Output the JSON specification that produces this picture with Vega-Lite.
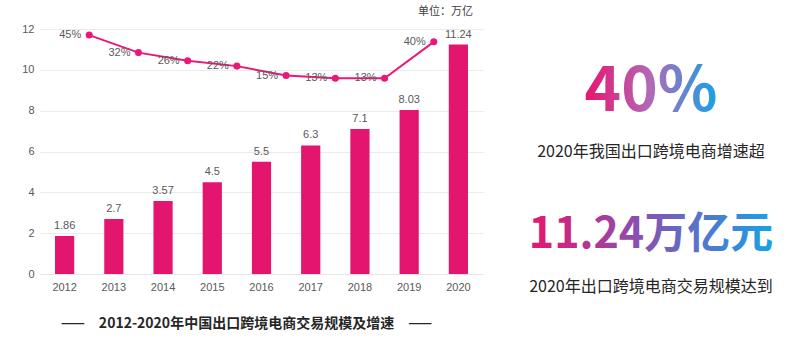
{
  "$schema": "https://vega.github.io/schema/vega-lite/v6.json",
  "autosize": "pad",
  "padding": {"left": 21, "top": 6, "right": 0, "bottom": 0},
  "bounds": "flush",
  "spacing": 40,
  "config": {"view": {"stroke": null}, "font": "Liberation Sans, Noto Sans CJK SC"},
  "hconcat": [
    {
      "width": 443,
      "height": 245,
      "title": {"text": "单位：万亿", "anchor": "end", "fontSize": 11, "fontWeight": "normal", "color": "#404040", "offset": 6, "dx": -10, "font": "Noto Sans CJK SC"},
      "layer": [
        {
          "data": {"values": [
            {"year": "2012", "value": 1.86},
            {"year": "2013", "value": 2.7},
            {"year": "2014", "value": 3.57},
            {"year": "2015", "value": 4.5},
            {"year": "2016", "value": 5.5},
            {"year": "2017", "value": 6.3},
            {"year": "2018", "value": 7.1},
            {"year": "2019", "value": 8.03},
            {"year": "2020", "value": 11.24}
          ]},
          "encoding": {
            "x": {"field": "year", "type": "nominal", "sort": null,
              "scale": {"type": "band", "paddingInner": 0.61, "paddingOuter": 0.305},
              "axis": {"title": "——\u20032012-2020年中国出口跨境电商交易规模及增速\u2003——", "titleFont": "Noto Sans CJK SC", "titleFontSize": 14, "titleFontWeight": "bold", "titleColor": "#262626", "titlePadding": 24, "titleX": 206, "titleAlign": "center", "labelAngle": 0, "labelFontSize": 11, "labelColor": "#595959", "labelPadding": 7, "ticks": false, "domainColor": "#e6e6e6"}},
            "y": {"field": "value", "type": "quantitative",
              "scale": {"domain": [0, 12], "nice": false},
              "axis": {"values": [0, 2, 4, 6, 8, 10, 12], "title": null, "domain": false, "ticks": false, "labelPadding": 6, "labelFontSize": 11, "labelColor": "#595959", "gridColor": "#ebebeb"}}
          },
          "layer": [
            {"mark": {"type": "bar", "color": "#e3156f"}},
            {"mark": {"type": "text", "baseline": "bottom", "dy": -5, "fontSize": 11, "color": "#595959"},
             "encoding": {"text": {"field": "value", "type": "nominal"}}}
          ]
        },
        {
          "data": {"values": [
            {"year": "2013", "rate": 0.45},
            {"year": "2014", "rate": 0.32},
            {"year": "2015", "rate": 0.26},
            {"year": "2016", "rate": 0.22},
            {"year": "2017", "rate": 0.15},
            {"year": "2018", "rate": 0.13},
            {"year": "2019", "rate": 0.13},
            {"year": "2020", "rate": 0.40}
          ]},
          "encoding": {
            "x": {"field": "year", "type": "ordinal",
              "scale": {"type": "point", "domain": ["2012", "2013", "2014", "2015", "2016", "2017", "2018", "2019", "2020", "2021"], "padding": 0},
              "axis": null},
            "y": {"field": "rate", "type": "quantitative",
              "scale": {"domain": [-1.32, 0.495], "zero": false, "nice": false},
              "axis": null}
          },
          "layer": [
            {"mark": {"type": "line", "color": "#e8197a", "strokeWidth": 2}},
            {"mark": {"type": "point", "filled": true, "color": "#e8197a", "size": 50, "opacity": 1}},
            {"mark": {"type": "text", "align": "right", "dx": -8, "baseline": "middle", "fontSize": 11, "color": "#595959"},
             "encoding": {"text": {"field": "rate", "type": "quantitative", "format": ".0%"}}}
          ]
        }
      ],
      "resolve": {"scale": {"x": "independent", "y": "independent"}}
    },
    {
      "width": 256,
      "height": 245,
      "data": {"values": [
        {"block": "growth", "big": "40%", "small": "2020年我国出口跨境电商增速超"},
        {"block": "scale", "big": "11.24万亿元", "small": "2020年出口跨境电商交易规模达到"}
      ]},
      "encoding": {
        "y": {"field": "block", "type": "nominal",
          "scale": {"type": "point", "domain": ["growth", "scale"], "padding": 0.375, "align": 0.848},
          "axis": null}
      },
      "layer": [
        {"transform": [{"filter": "datum.block === 'growth'"}],
         "mark": {"type": "text", "font": "Noto Sans CJK SC", "fontSize": 62, "fontWeight": "bold", "baseline": "middle", "dy": -26,
           "color": {"gradient": "linear", "stops": [{"offset": 0, "color": "#e8146e"}, {"offset": 0.5, "color": "#b06ab8"}, {"offset": 1, "color": "#17a2e6"}]}},
         "encoding": {"text": {"field": "big", "type": "nominal"}}},
        {"transform": [{"filter": "datum.block === 'growth'"}],
         "mark": {"type": "text", "font": "Noto Sans CJK SC", "fontSize": 16, "baseline": "middle", "dy": 34, "color": "#262626"},
         "encoding": {"text": {"field": "small", "type": "nominal"}}},
        {"transform": [{"filter": "datum.block === 'scale'"}],
         "mark": {"type": "text", "font": "Noto Sans CJK SC", "fontSize": 43, "fontWeight": "bold", "baseline": "middle", "dy": -23,
           "color": {"gradient": "linear", "stops": [{"offset": 0, "color": "#e8146e"}, {"offset": 0.45, "color": "#8a4fb0"}, {"offset": 1, "color": "#17a2e6"}]}},
         "encoding": {"text": {"field": "big", "type": "nominal"}}},
        {"transform": [{"filter": "datum.block === 'scale'"}],
         "mark": {"type": "text", "font": "Noto Sans CJK SC", "fontSize": 16, "baseline": "middle", "dy": 29, "color": "#262626"},
         "encoding": {"text": {"field": "small", "type": "nominal"}}}
      ]
    }
  ]
}
